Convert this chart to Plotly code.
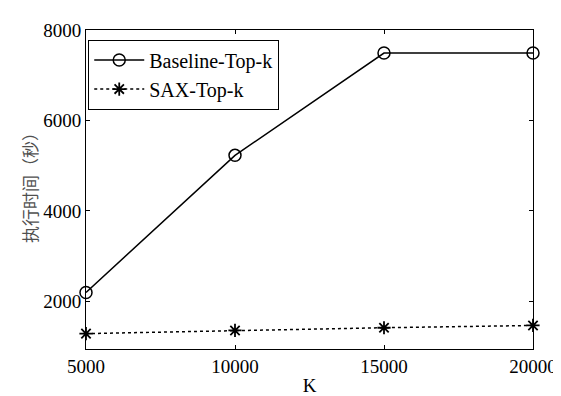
import plotly.graph_objects as go

k_values = [5000, 10000, 15000, 20000]
baseline_topk = [2200, 5230, 7490, 7490]
sax_topk = [1290, 1360, 1420, 1470]
x_ticks = [5000, 10000, 15000, 20000]
y_ticks = [2000, 4000, 6000, 8000]

font_serif = "Times New Roman, Liberation Serif, serif"

fig = go.Figure()
fig.add_trace(go.Scatter(
    x=k_values, y=baseline_topk, mode="lines+markers", name="Baseline-Top-k",
    line=dict(color="black", width=1.5),
    marker=dict(symbol="circle-open", size=12, color="black", line=dict(width=1.5)),
    cliponaxis=False,
))
fig.add_trace(go.Scatter(
    x=k_values, y=sax_topk, mode="lines+markers", name="SAX-Top-k",
    line=dict(color="black", width=1.5, dash="dot"),
    marker=dict(symbol="asterisk-open", size=11, color="black", line=dict(width=1.8)),
    cliponaxis=False,
))

axis_common = dict(
    showline=True, linecolor="black", linewidth=1, mirror="ticks",
    ticks="inside", ticklen=4, tickcolor="black", showgrid=False, zeroline=False,
    tickformat="d", ticklabeloverflow="allow",
    tickfont=dict(family=font_serif, size=19, color="black"),
)
fig.update_xaxes(range=[5000, 20000], tickvals=x_ticks, **axis_common,
                 title=dict(text="K", font=dict(family=font_serif, size=19, color="black"), standoff=2))
fig.update_yaxes(range=[950, 8000], tickvals=y_ticks, **axis_common)

fig.add_annotation(
    text="执行时间（秒）", xref="paper", yref="paper", x=-0.128, y=0.52,
    xanchor="center", yanchor="middle",
    textangle=-90, showarrow=False,
    font=dict(family="Noto Sans CJK SC", size=17, color="#505050"),
)

fig.update_layout(
    width=561, height=396,
    margin=dict(l=78, r=23, t=19, b=44),
    plot_bgcolor="white", paper_bgcolor="white",
    font=dict(family=font_serif, size=19, color="black"),
    showlegend=True,
    legend=dict(
        x=0.005, y=0.97, xanchor="left", yanchor="top",
        bordercolor="black", borderwidth=1, bgcolor="white",
        font=dict(family=font_serif, size=20, color="black"),
        tracegroupgap=0, itemwidth=50,
    ),
)

fig.write_html("out.html")
